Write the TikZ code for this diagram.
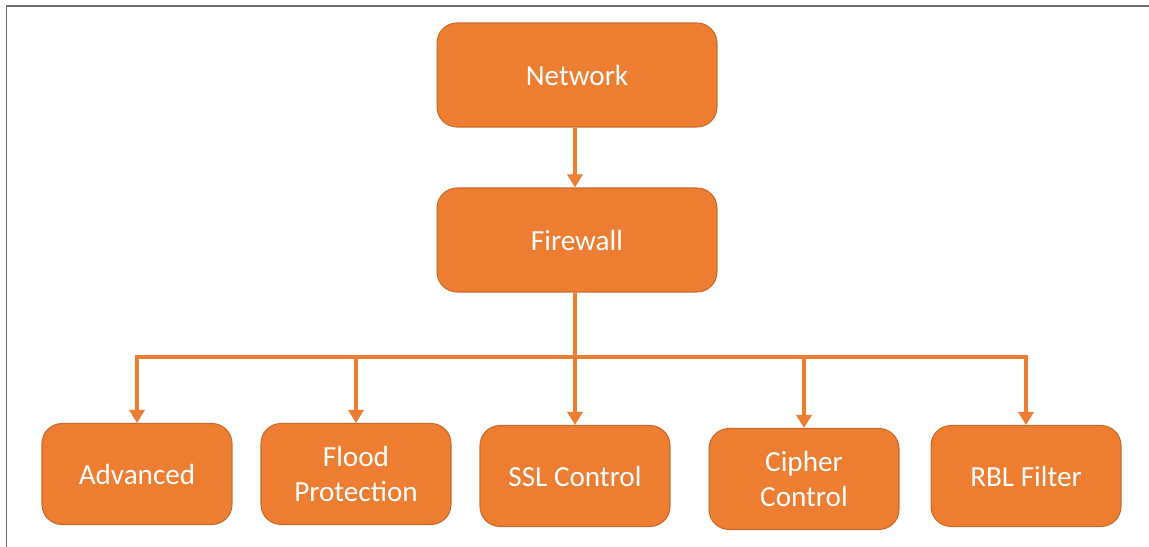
\documentclass[tikz,border=0pt]{standalone}
\usepackage{fontspec}
\setmainfont{Carlito}
\usetikzlibrary{arrows.meta}
\definecolor{offorange}{HTML}{ED7D31}
\definecolor{offedge}{HTML}{C96A2A}
\definecolor{framegray}{HTML}{6E6E6E}
\tikzset{
  bigbox/.style={draw=offedge, line width=0.6pt, fill=offorange, rounded corners=0.4cm,
    minimum width=5.6cm, minimum height=2.08cm, text=white, align=center,
    font=\fontsize{16.6}{20}\selectfont, inner sep=0pt},
  smallbox/.style={bigbox, minimum width=3.8cm, minimum height=2.02cm},
  link/.style={draw=offorange, line width=0.08cm},
  arr/.style={link, -{Triangle[width=0.3cm,length=0.26cm]}}
}
\begin{document}
\begin{tikzpicture}[x=0.02cm, y=-0.02cm]
\useasboundingbox (0,0) rectangle (1149,547);
\draw[framegray, line width=0.04cm] (6.5,547) -- (6.5,6.5) -- (1149,6.5);
\node[bigbox] (net) at (577,75) {Network};
\node[bigbox] (fw) at (577,240) {Firewall};
\node[smallbox] (adv) at (137,474) {Advanced};
\node[smallbox] (flood) at (356,474) {Flood\\Protection};
\node[smallbox] (ssl) at (575,476) {SSL Control};
\node[smallbox] (ciph) at (804,479) {Cipher\\Control};
\node[smallbox] (rbl) at (1026,476) {RBL Filter};
\coordinate (j) at (575,357);
\draw[arr] (net.south -| 575,0) -- (fw.north -| 575,0);
\draw[link] (fw.south -| j) -- (j);
\draw[link, line cap=rect] (adv |- j) -- (rbl |- j);
\draw[arr] (adv |- j) -- (adv.north);
\draw[arr] (flood |- j) -- (flood.north);
\draw[arr] (j) -- (ssl.north -| j);
\draw[arr] (804,357) -- (ciph.north);
\draw[arr] (rbl |- j) -- (rbl.north);
\end{tikzpicture}
\end{document}
